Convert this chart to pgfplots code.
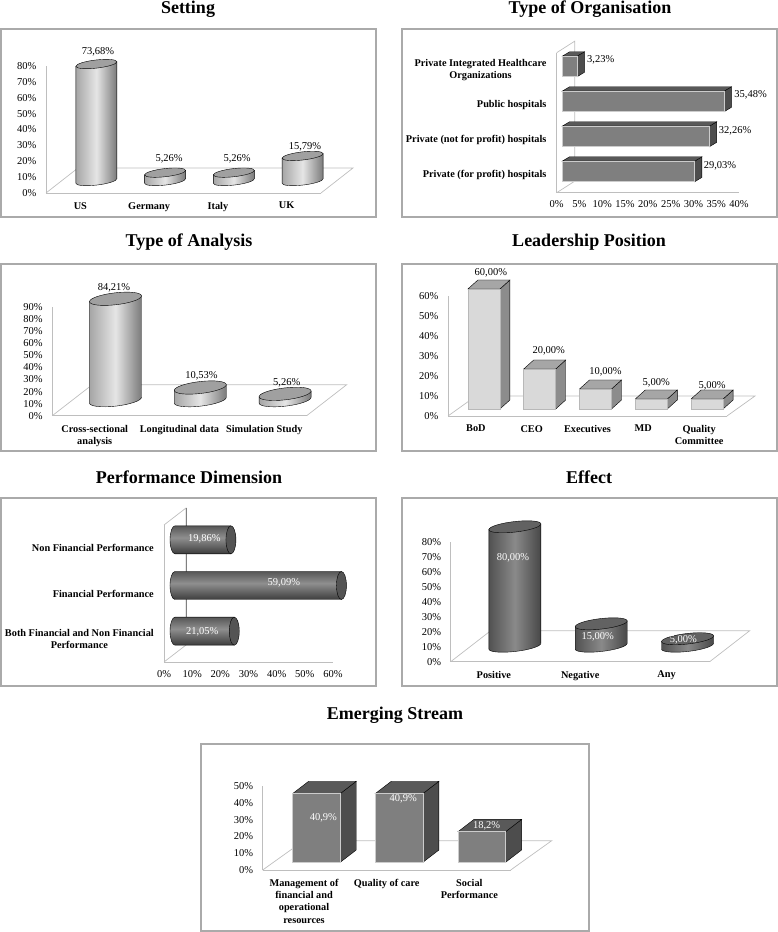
\documentclass[border=0pt]{standalone}
\usepackage{fontspec}
\setmainfont{Liberation Serif}
\usepackage{pgfplots}
\usepackage{pgfplotstable}
\pgfplotsset{compat=1.18}

\definecolor{framecol}{RGB}{170,170,170}
\definecolor{wallcol}{RGB}{190,190,190}
\definecolor{cyltopL}{RGB}{160,160,160}
\definecolor{cyltopD}{RGB}{98,98,98}
\definecolor{frontL}{RGB}{217,217,217}
\definecolor{topL}{RGB}{166,166,166}
\definecolor{sideL}{RGB}{140,140,140}
\definecolor{frontD}{RGB}{127,127,127}
\definecolor{topD}{RGB}{89,89,89}
\definecolor{sideD}{RGB}{77,77,77}

\pgfdeclarehorizontalshading{lightcyl}{100bp}{color(0bp)=(black!35);color(25bp)=(black!35);color(50bp)=(black!10);color(75bp)=(black!52);color(100bp)=(black!52)}
\pgfdeclarehorizontalshading{darkcyl}{100bp}{color(0bp)=(black!68);color(25bp)=(black!68);color(50bp)=(black!46);color(75bp)=(black!72);color(100bp)=(black!72)}
\pgfdeclareverticalshading{darkhcyl}{100bp}{color(0bp)=(black!76);color(25bp)=(black!76);color(54bp)=(black!44);color(75bp)=(black!66);color(100bp)=(black!66)}

% 3d shapes: mark sits on the data point, body is as long as the value
\pgfdeclareplotmark{vcyl}{%
  \pgfmathsetmacro\h{\barv*\yu}%
  \pgfscope
  \pgftransformshift{\pgfqpoint{\sx pt}{\sy pt}}%
  \pgftransformyslant{.11}%
  \begin{scope}[x=1pt,y=1pt]
    \path[shade,shading=\cylshade] (-\rx,0) -- (-\rx,-\h) arc[start angle=180,end angle=360,x radius=\rx,y radius=\ry] -- (\rx,0) -- cycle;
    \path[fill=\cyltop] (0,0) ellipse[x radius=\rx,y radius=\ry];
  \end{scope}
  \endpgfscope}
\pgfdeclareplotmark{hcyl}{%
  \pgfmathsetmacro\h{\barv*\yu}%
  \pgfscope
  \pgftransformshift{\pgfqpoint{\sx pt}{\sy pt}}%
  \begin{scope}[x=1pt,y=1pt]
    \path[shade,shading=darkhcyl] (0,\ry) -- (-\h,\ry) arc[start angle=90,end angle=270,x radius=\rx,y radius=\ry] -- (0,-\ry) -- cycle;
    \path[fill=black!67] (0,0) ellipse[x radius=\rx,y radius=\ry];
  \end{scope}
  \endpgfscope}
\pgfdeclareplotmark{vbox}{%
  \pgfmathsetmacro\h{\barv*\yu}%
  \pgfscope
  \pgftransformshift{\pgfqpoint{\sx pt}{\sy pt}}%
  \begin{scope}[x=1pt,y=1pt]
    \path[fill=\boxside] (\rx,0) -- ++(\dpx,\dpy) -- ++(0,-\h) -- ++(-\dpx,-\dpy) -- cycle;
    \path[fill=\boxtop] (-\rx,0) -- ++(\dpx,\dpy) -- ++(2*\rx,0) -- ++(-\dpx,-\dpy) -- cycle;
    \path[fill=\boxfront,draw=\boxedge,line width=.6pt] (-\rx,0) rectangle (\rx,-\h);
  \end{scope}
  \endpgfscope}
\pgfdeclareplotmark{hbox}{%
  \pgfmathsetmacro\h{\barv*\yu}%
  \pgfscope
  \pgftransformshift{\pgfqpoint{\sx pt}{\sy pt}}%
  \begin{scope}[x=1pt,y=1pt]
    \path[fill=\boxside] (0,\rx) -- ++(\dpx,\dpy) -- ++(0,-2*\rx) -- ++(-\dpx,-\dpy) -- cycle;
    \path[fill=\boxtop] (-\h,\rx) -- ++(\dpx,\dpy) -- ++(\h,0) -- ++(-\dpx,-\dpy) -- cycle;
    \path[fill=\boxfront,draw=\boxedge,line width=.6pt] (-\h,-\rx) rectangle (0,\rx);
  \end{scope}
  \endpgfscope}

\newcommand{\setshape}[5]{\def\rx{#1}\def\ry{#2}\def\sx{#3}\def\sy{#4}\def\yu{#5}}
\newcommand{\setdepth}[2]{\def\dpx{#1}\def\dpy{#2}}
\newcommand{\setlooks}[5]{\def\boxfront{#1}\def\boxtop{#2}\def\boxside{#3}\def\boxedge{#4}\def\lblcol{#5}}
\newcommand{\setcyl}[3]{\def\cylshade{#1}\def\cyltop{#2}\def\lblcol{#3}}
\def\prec{2}

\newcommand{\paneltitle}[3]{\node[font=\fontsize{18}{20}\selectfont\bfseries] at (#1pt,932pt-#2pt) {#3};}
\newcommand{\panelframe}[4]{\draw[framecol,line width=1.4pt] (#1pt,932pt-#2pt) rectangle (#3pt,932pt-#4pt);}

\pgfplotsset{
  panel/.style={
    scale only axis, clip=false,
    axis x line*=bottom, axis y line*=left,
    axis line style={wallcol,-,line width=.7pt},
    major tick length=0pt,
    /pgf/number format/assume math mode=true,
    tick label style={inner sep=0pt},
  },
  vpanel/.style={panel,
    xmin=-.5, ymin=0,
    yticklabel={\pgfmathprintnumber{\tick}\%},
    yticklabel style={font=\fontsize{10.5}{12}\selectfont,xshift=-9.5pt},
    xticklabel style={font=\fontsize{10.3}{12.2}\selectfont\bfseries,align=center,yshift=-9pt},
  },
  hpanel/.style={panel,
    ymin=-.5, xmin=0,
    xticklabel={\pgfmathprintnumber{\tick}\%},
    xticklabel style={font=\fontsize{10.5}{12}\selectfont,yshift=-8pt},
    yticklabel style={font=\fontsize{10.3}{12.2}\selectfont\bfseries,align=center,xshift=-10pt},
  },
  floorline/.style={wallcol,line width=.7pt,no marks},
  shapes/.style={scatter,only marks,mark=#1,
    visualization depends on={\thisrow{v}\as\barv},
    visualization depends on={\thisrow{lx}\as\lblx},
    visualization depends on={\thisrow{ly}\as\lbly},
    nodes near coords={\pgfmathprintnumber[fixed,fixed zerofill,precision=\prec,use comma]{\barv}\%},
    nodes near coords style={anchor=center,inner sep=0pt,font=\fontsize{10.5}{12}\selectfont,
      text=\lblcol,xshift=\lblx pt,yshift=\lbly pt},
  },
}

\pgfplotstableread{
x v lx ly
0 73.68 17.6 24
1 5.26 20 25.6
2 5.26 19.3 25.6
3 15.79 18.4 21
}\setting
\pgfplotstableread{
r v lx ly
0 29.03 31 9
1 32.26 31.4 9.3
2 35.48 32.2 10
3 3.23 29.3 10.7
}\organisation
\pgfplotstableread{
x v lx ly
0 84.21 19.3 26.6
1 10.53 22 27.3
2 5.26 22.4 27
}\analysis
\pgfplotstableread{
x v lx ly
0 60 15 23
1 20 17 25
2 10 18 24
3 5 13 23
4 5 13 20
}\leadership
\pgfplotstableread{
r v lx ly
0 21.05 -21 6.9
1 59.09 -46.5 10.8
2 19.86 -15.6 9.3
}\dimension
\pgfplotstableread{
x v lx ly
0 80 19.1 -16
1 15 17.5 2.6
2 5 16.8 14.2
}\effect
\pgfplotstableread{
x v lx ly
0 40.9 19.3 -16.7
1 40.9 16.6 2.3
2 18.2 17.3 14.1
}\emerging

\begin{document}
\begin{tikzpicture}
\path[use as bounding box] (0,0) rectangle (778pt,932pt);

\paneltitle{188}{9}{Setting}
\paneltitle{590}{9}{Type of Organisation}
\paneltitle{189}{242}{Type of Analysis}
\paneltitle{589}{242}{Leadership Position}
\paneltitle{189}{477}{Performance Dimension}
\paneltitle{589}{477}{Effect}
\paneltitle{395}{715}{Emerging Stream}
\panelframe{1}{29}{376}{217}
\panelframe{402}{29}{777}{217}
\panelframe{1}{264}{376}{451}
\panelframe{402}{264}{777}{451}
\panelframe{1}{498}{376}{686}
\panelframe{402}{498}{777}{686}
\panelframe{201}{744}{589}{931}

% Setting
\begin{axis}[vpanel, at={(46pt,739pt)}, width=275pt, height=127pt,
    xmax=3.5, ymax=80, ytick={0,10,...,80}, xtick={0,1,2,3},
    xticklabels={US,Germany,Italy,UK}]
  \addplot[floorline] coordinates {(-.5,0) (-.0345,15.75) (3.9655,15.75) (3.5,0)};
  \setshape{20.5}{4.1}{16}{12}{1.5875}\setcyl{lightcyl}{cyltopL}{black}
  \addplot[shapes=vcyl] table {\setting};
\end{axis}

% Type of Organisation
\begin{axis}[hpanel, at={(556.7pt,739.3pt)}, width=182.3pt, height=140pt,
    xmax=40, ymax=3.5, xtick={0,5,...,40}, ytick={0,1,2,3},
    yticklabels={Private (for profit) hospitals,Private (not for profit) hospitals,Public hospitals,{Private Integrated Healthcare\\Organizations}}]
  \addplot[floorline] coordinates {(0,-.5) (3.947,-.1714) (3.947,3.8286) (0,3.5)};
  \setshape{10.3}{0}{5.6}{3.7}{4.56}\setdepth{7.3}{4.4}\setlooks{frontD}{topD}{sideD}{black!20}{black}
  \addplot[shapes=hbox] table[x=v,y=r] {\organisation};
\end{axis}

% Type of Analysis
\begin{axis}[vpanel, at={(52.3pt,516.3pt)}, width=254.4pt, height=108.4pt,
    xmax=2.5, ymax=90, ytick={0,10,...,90}, xtick={0,1,2},
    xticklabels={{Cross-sectional\\analysis},Longitudinal data,Simulation Study}]
  \addplot[floorline] coordinates {(-.5,0) (-.0283,25.75) (2.9717,25.75) (2.5,0)};
  \setshape{26}{6}{20.8}{15.5}{1.204}\setcyl{lightcyl}{cyltopL}{black}
  \addplot[shapes=vcyl] table {\analysis};
\end{axis}

% Leadership Position
\begin{axis}[vpanel, at={(448pt,516pt)}, width=279pt, height=120pt,
    xmax=4.5, ymax=60, ytick={0,10,...,60}, xtick={0,1,2,3,4},
    xticklabels={BoD,CEO,Executives,MD,{Quality\\Committee}}]
  \addplot[floorline] coordinates {(-.5,0) (.0018,10) (5.0018,10) (4.5,0)};
  \setshape{16}{0}{8}{7}{2}\setdepth{10}{9}\setlooks{frontL}{topL}{sideL}{black!28}{black}
  \addplot[shapes=vbox] table {\leadership};
\end{axis}

% Performance Dimension
\begin{axis}[hpanel, at={(164pt,270pt)}, width=169pt, height=137pt,
    xmax=60, ymax=2.5, xtick={0,10,...,60}, ytick={0,1,2},
    yticklabels={{Both Financial and Non Financial\\Performance},Financial Performance,Non Financial Performance}]
  \addplot[floorline] coordinates {(0,-.5) (7.81,-.128) (7.81,2.872) (0,2.5)};
  \addplot[black!50,line width=.7pt,no marks] coordinates {(7.81,-.128) (7.81,2.872)};
  \setshape{5}{14}{11}{8}{2.817}\def\lblcol{white}
  \addplot[shapes=hcyl] table[x=v,y=r] {\dimension};
\end{axis}

% Effect
\begin{axis}[vpanel, at={(450.7pt,270.3pt)}, width=259pt, height=119.4pt,
    xmax=2.5, ymax=80, ytick={0,10,...,80}, xtick={0,1,2},
    xticklabels={Positive,Negative,Any}]
  \addplot[floorline] coordinates {(-.5,0) (-.0365,20.77) (2.9635,20.77) (2.5,0)};
  \setshape{26}{5.3}{21}{15.5}{1.4925}\setcyl{darkcyl}{cyltopD}{white}
  \addplot[shapes=vcyl] table {\effect};
\end{axis}

% Emerging Stream
\def\prec{1}
\begin{axis}[vpanel, at={(262.7pt,62pt)}, width=248pt, height=84pt,
    xmax=2.5, ymax=50, ytick={0,10,...,50}, xtick={0,1,2},
    xticklabels={{Management of\\financial and\\operational\\resources},Quality of care,{Social\\Performance}}]
  \addplot[floorline] coordinates {(-.5,0) (-.0042,17.44) (2.9958,17.44) (2.5,0)};
  \setshape{23.8}{0}{12.4}{7.7}{1.68}\setdepth{16}{12.3}\setlooks{frontD}{topD}{sideD}{black!20}{white}
  \addplot[shapes=vbox] table {\emerging};
\end{axis}
\end{tikzpicture}
\end{document}
